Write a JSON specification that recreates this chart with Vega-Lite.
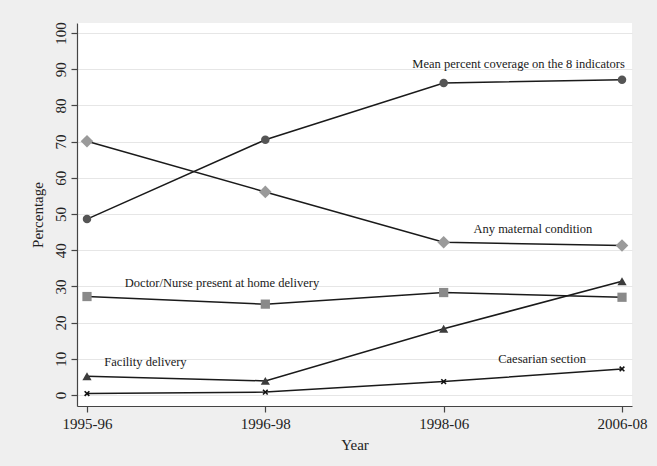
{
  "$schema": "https://vega.github.io/schema/vega-lite/v6.json",
  "width": 555,
  "height": 383,
  "autosize": {"type": "none"},
  "padding": {"left": 77, "top": 23, "right": 25, "bottom": 60},
  "background": "#efefef",
  "config": {
    "view": {"stroke": null, "fill": "white"},
    "font": "Liberation Serif",
    "axis": {
      "labelFont": "Liberation Serif",
      "titleFont": "Liberation Serif",
      "labelFontSize": 15,
      "titleFontSize": 15,
      "titleFontWeight": "normal",
      "labelColor": "#222",
      "titleColor": "#222",
      "domainColor": "#444",
      "tickColor": "#444",
      "domainWidth": 1.2,
      "tickWidth": 1.2,
      "tickSize": 6
    }
  },
  "datasets": {
    "series": [
      {"series": "Mean percent coverage on the 8 indicators", "period": "1995-96", "t": 0, "value": 48.6},
      {"series": "Mean percent coverage on the 8 indicators", "period": "1996-98", "t": 1, "value": 70.5},
      {"series": "Mean percent coverage on the 8 indicators", "period": "1998-06", "t": 2, "value": 86.2},
      {"series": "Mean percent coverage on the 8 indicators", "period": "2006-08", "t": 3, "value": 87.1},
      {"series": "Any maternal condition", "period": "1995-96", "t": 0, "value": 70.1},
      {"series": "Any maternal condition", "period": "1996-98", "t": 1, "value": 56.1},
      {"series": "Any maternal condition", "period": "1998-06", "t": 2, "value": 42.2},
      {"series": "Any maternal condition", "period": "2006-08", "t": 3, "value": 41.3},
      {"series": "Doctor/Nurse present at home delivery", "period": "1995-96", "t": 0, "value": 27.2},
      {"series": "Doctor/Nurse present at home delivery", "period": "1996-98", "t": 1, "value": 25.1},
      {"series": "Doctor/Nurse present at home delivery", "period": "1998-06", "t": 2, "value": 28.3},
      {"series": "Doctor/Nurse present at home delivery", "period": "2006-08", "t": 3, "value": 27.0},
      {"series": "Facility delivery", "period": "1995-96", "t": 0, "value": 5.2},
      {"series": "Facility delivery", "period": "1996-98", "t": 1, "value": 3.9},
      {"series": "Facility delivery", "period": "1998-06", "t": 2, "value": 18.3},
      {"series": "Facility delivery", "period": "2006-08", "t": 3, "value": 31.4},
      {"series": "Caesarian section", "period": "1995-96", "t": 0, "value": 0.4},
      {"series": "Caesarian section", "period": "1996-98", "t": 1, "value": 0.8},
      {"series": "Caesarian section", "period": "1998-06", "t": 2, "value": 3.7},
      {"series": "Caesarian section", "period": "2006-08", "t": 3, "value": 7.2}
    ],
    "labels": [
      {"label": "Mean percent coverage on the 8 indicators", "t": 2.42, "value": 91.4},
      {"label": "Any maternal condition", "t": 2.5, "value": 45.9},
      {"label": "Doctor/Nurse present at home delivery", "t": 0.757, "value": 31.0},
      {"label": "Facility delivery", "t": 0.328, "value": 9.2},
      {"label": "Caesarian section", "t": 2.552, "value": 9.9}
    ]
  },
  "encoding": {
    "x": {
      "field": "t",
      "type": "quantitative",
      "scale": {"domain": [-0.056, 3.056], "nice": false, "zero": false},
      "axis": {
        "title": "Year",
        "values": [0, 1, 2, 3],
        "labelExpr": "['1995-96','1996-98','1998-06','2006-08'][datum.value]",
        "grid": false,
        "labelPadding": 4,
        "titlePadding": 6
      }
    },
    "y": {
      "field": "value",
      "type": "quantitative",
      "scale": {"domain": [-3.04, 102.76], "nice": false, "zero": false},
      "axis": {
        "title": "Percentage",
        "values": [0, 10, 20, 30, 40, 50, 60, 70, 80, 90, 100],
        "labelAngle": -90,
        "labelPadding": 3,
        "titlePadding": 8,
        "grid": true,
        "gridColor": "#e6e6e6",
        "gridWidth": 1.2
      }
    }
  },
  "layer": [
    {
      "data": {"name": "series"},
      "mark": {"type": "line", "color": "#1a1a1a", "strokeWidth": 1.5},
      "encoding": {"detail": {"field": "series"}}
    },
    {
      "data": {"name": "series"},
      "transform": [{"filter": "datum.series === 'Mean percent coverage on the 8 indicators'"}],
      "mark": {"type": "point", "shape": "circle", "filled": true, "size": 72, "color": "#555555", "opacity": 1}
    },
    {
      "data": {"name": "series"},
      "transform": [{"filter": "datum.series === 'Any maternal condition'"}],
      "mark": {"type": "point", "shape": "M0,-1L1,0L0,1L-1,0Z", "filled": true, "size": 160, "color": "#9a9a9a", "opacity": 1}
    },
    {
      "data": {"name": "series"},
      "transform": [{"filter": "datum.series === 'Doctor/Nurse present at home delivery'"}],
      "mark": {"type": "point", "shape": "square", "filled": true, "size": 85, "color": "#8a8a8a", "opacity": 1}
    },
    {
      "data": {"name": "series"},
      "transform": [{"filter": "datum.series === 'Facility delivery'"}],
      "mark": {"type": "point", "shape": "triangle-up", "filled": true, "size": 85, "color": "#3c3c3c", "opacity": 1}
    },
    {
      "data": {"name": "series"},
      "transform": [{"filter": "datum.series === 'Caesarian section'"}],
      "mark": {"type": "point", "shape": "M-1,-1L1,1M1,-1L-1,1", "filled": false, "size": 22, "stroke": "#111", "strokeWidth": 1.6, "opacity": 1}
    },
    {
      "data": {"name": "labels"},
      "mark": {"type": "text", "fontSize": 12.5, "font": "Liberation Serif", "color": "#1a1a1a", "align": "center", "baseline": "middle"},
      "encoding": {"text": {"field": "label"}}
    }
  ]
}
